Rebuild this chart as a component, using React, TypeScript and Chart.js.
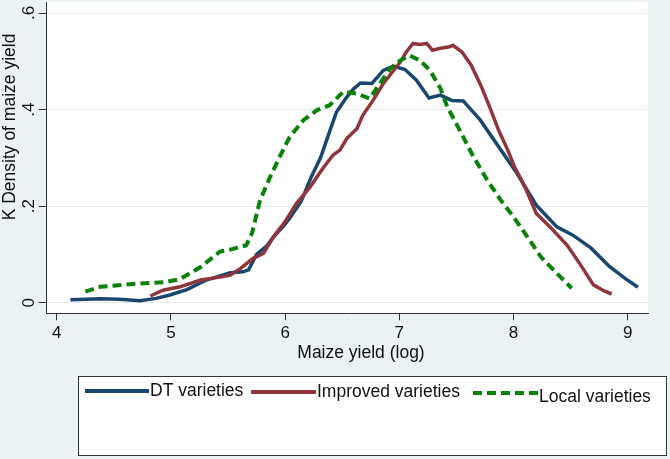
import { useEffect, useRef } from "react";
import { Chart, registerables } from "chart.js";

Chart.register(...registerables);

// ---------- data ----------
const xTicks = [4, 5, 6, 7, 8, 9];
const yTicks = [0, 0.2, 0.4, 0.6];
const yTickLabels = ["0", ".2", ".4", ".6"];
const xTitle = "Maize yield (log)";
const yTitle = "K Density of maize yield";
const seriesLabels = ["DT varieties", "Improved varieties", "Local varieties"];

const dtX = [4.12, 4.38, 4.55, 4.73, 4.87, 4.99, 5.14, 5.31, 5.52, 5.63, 5.68, 5.75, 5.84, 5.9, 5.98, 6.04, 6.14, 6.23, 6.31, 6.39, 6.45, 6.54, 6.6, 6.66, 6.76, 6.86, 6.95, 7.05, 7.15, 7.26, 7.36, 7.46, 7.56, 7.71, 7.87, 8.03, 8.2, 8.38, 8.52, 8.68, 8.84, 8.98, 9.09];
const dtY = [0.006, 0.008, 0.007, 0.004, 0.009, 0.016, 0.027, 0.047, 0.062, 0.064, 0.068, 0.1, 0.118, 0.137, 0.157, 0.175, 0.21, 0.261, 0.3, 0.355, 0.395, 0.426, 0.443, 0.455, 0.454, 0.481, 0.49, 0.483, 0.461, 0.424, 0.43, 0.419, 0.418, 0.378, 0.323, 0.268, 0.202, 0.157, 0.14, 0.113, 0.075, 0.05, 0.032];

const impX = [4.82, 4.93, 5.08, 5.26, 5.43, 5.52, 5.61, 5.72, 5.81, 5.9, 6.0, 6.1, 6.22, 6.32, 6.42, 6.48, 6.54, 6.63, 6.68, 6.77, 6.86, 6.95, 7.01, 7.06, 7.12, 7.18, 7.24, 7.29, 7.36, 7.44, 7.47, 7.55, 7.63, 7.72, 7.79, 7.87, 7.95, 8.01, 8.1, 8.2, 8.32, 8.47, 8.58, 8.7, 8.79, 8.86];
const impY = [0.014, 0.026, 0.033, 0.047, 0.053, 0.057, 0.071, 0.092, 0.102, 0.137, 0.168, 0.206, 0.24, 0.275, 0.306, 0.316, 0.34, 0.361, 0.388, 0.419, 0.454, 0.481, 0.499, 0.519, 0.537, 0.535, 0.537, 0.523, 0.527, 0.53, 0.533, 0.519, 0.492, 0.447, 0.406, 0.357, 0.316, 0.281, 0.24, 0.185, 0.157, 0.119, 0.081, 0.037, 0.025, 0.018];

const locX = [4.25, 4.38, 4.67, 4.96, 5.08, 5.26, 5.43, 5.52, 5.66, 5.71, 5.78, 5.87, 5.96, 6.04, 6.16, 6.28, 6.39, 6.51, 6.63, 6.74, 6.83, 6.92, 7.01, 7.09, 7.18, 7.27, 7.36, 7.42, 7.53, 7.65, 7.77, 7.89, 8.0, 8.12, 8.24, 8.35, 8.51];
const locY = [0.023, 0.033, 0.039, 0.043, 0.049, 0.074, 0.106, 0.11, 0.119, 0.144, 0.212, 0.261, 0.306, 0.343, 0.378, 0.399, 0.409, 0.437, 0.433, 0.423, 0.454, 0.485, 0.502, 0.512, 0.502, 0.481, 0.444, 0.406, 0.357, 0.302, 0.254, 0.212, 0.178, 0.137, 0.095, 0.068, 0.03];

// ---------- styles ----------
const FONT = "'Liberation Sans', Arial, Helvetica, sans-serif";
const BG = "#eaf2f3";
const COLORS = ["#1a476f", "#90353b", "#0a820a"];
const DASHES: number[][] = [[], [], [9, 5]];

const toPts = (xs: number[], ys: number[]) => xs.map((x, i) => ({ x, y: ys[i] }));

const decorPlugin = {
  id: "decor",
  beforeDraw(chart: any) {
    const { ctx, chartArea } = chart;
    const { left, top, right, bottom } = chartArea;
    ctx.save();
    ctx.fillStyle = BG;
    ctx.fillRect(0, 0, chart.width, chart.height);
    ctx.fillStyle = "#ffffff";
    ctx.fillRect(left, top, right - left, bottom - top);
    ctx.restore();
  },
  afterDraw(chart: any) {
    const { ctx, chartArea } = chart;
    const xs = chart.scales.x;
    const ys = chart.scales.y;
    const { left, bottom } = chartArea;
    ctx.save();
    ctx.fillStyle = "#111";
    ctx.font = `17px ${FONT}`;
    ctx.textAlign = "center";
    ctx.textBaseline = "middle";
    // x tick labels
    xTicks.forEach((v) => ctx.fillText(String(v), xs.getPixelForValue(v), bottom + 20));
    // y tick labels rotated
    yTicks.forEach((v, i) => {
      ctx.save();
      ctx.translate(left - 17, ys.getPixelForValue(v));
      ctx.rotate(-Math.PI / 2);
      ctx.fillText(yTickLabels[i], 0, 0);
      ctx.restore();
    });
    ctx.font = `17.5px ${FONT}`;
    // x title
    ctx.fillText(xTitle, 361, bottom + 40);
    // y title
    ctx.save();
    ctx.translate(10, 127);
    ctx.rotate(-Math.PI / 2);
    ctx.fillText(yTitle, 0, 0);
    ctx.restore();

    // legend box
    const bx = 78.5, by = 376.5, bw = 588, bh = 79;
    ctx.fillStyle = "#ffffff";
    ctx.fillRect(bx, by, bw, bh);
    ctx.strokeStyle = "#333";
    ctx.lineWidth = 1;
    ctx.strokeRect(bx, by, bw, bh);
    const entries = [
      { x0: 85, x1: 149, ly: 391, ty: 391 },
      { x0: 251, x1: 316, ly: 392, ty: 392 },
      { x0: 473, x1: 538, ly: 393, ty: 397 },
    ];
    ctx.textAlign = "left";
    entries.forEach((e, i) => {
      ctx.beginPath();
      ctx.strokeStyle = COLORS[i];
      ctx.lineWidth = 4;
      ctx.setLineDash(DASHES[i]);
      ctx.moveTo(e.x0, e.ly);
      ctx.lineTo(e.x1, e.ly);
      ctx.stroke();
      ctx.setLineDash([]);
      ctx.fillStyle = "#111";
      ctx.fillText(seriesLabels[i], e.x1 + 1, e.ty);
    });
    ctx.restore();
  },
};

export default function App() {
  const ref = useRef<HTMLCanvasElement | null>(null);
  useEffect(() => {
    document.body.style.margin = "0";
    const canvas = ref.current;
    if (!canvas) return;
    const data = [toPts(dtX, dtY), toPts(impX, impY), toPts(locX, locY)];
    const chart = new Chart(canvas, {
      type: "scatter",
      data: {
        datasets: data.map((d, i) => ({
          label: seriesLabels[i],
          data: d,
          showLine: true,
          borderColor: COLORS[i],
          backgroundColor: COLORS[i],
          borderWidth: i === 2 ? 4 : 3.5,
          borderDash: DASHES[i],
          pointRadius: 0,
          tension: 0,
          order: 3 - i,
        })),
      },
      options: {
        animation: false,
        responsive: false,
        devicePixelRatio: 1,
        layout: { padding: { left: 38.7, right: 22, top: 2, bottom: 138.7 } },
        plugins: { legend: { display: false }, tooltip: { enabled: false } },
        scales: {
          x: {
            type: "linear",
            min: 3.912,
            max: 9.178,
            afterBuildTicks: (s: any) => {
              s.ticks = xTicks.map((v) => ({ value: v }));
            },
            ticks: { display: false },
            grid: { drawOnChartArea: false, drawTicks: true, tickLength: 7, tickColor: "#333" },
            border: { display: true, color: "#333", width: 1 },
          },
          y: {
            type: "linear",
            min: -0.0219,
            max: 0.6228,
            afterBuildTicks: (s: any) => {
              s.ticks = yTicks.map((v) => ({ value: v }));
            },
            ticks: { display: false },
            grid: { drawOnChartArea: true, color: "#e3ecee", lineWidth: 1, drawTicks: true, tickLength: 8, tickColor: "#333" },
            border: { display: true, color: "#333", width: 1 },
          },
        },
      },
      plugins: [decorPlugin],
    });
    return () => chart.destroy();
  }, []);
  return <canvas ref={ref} width={670} height={459} style={{ display: "block" }} />;
}
